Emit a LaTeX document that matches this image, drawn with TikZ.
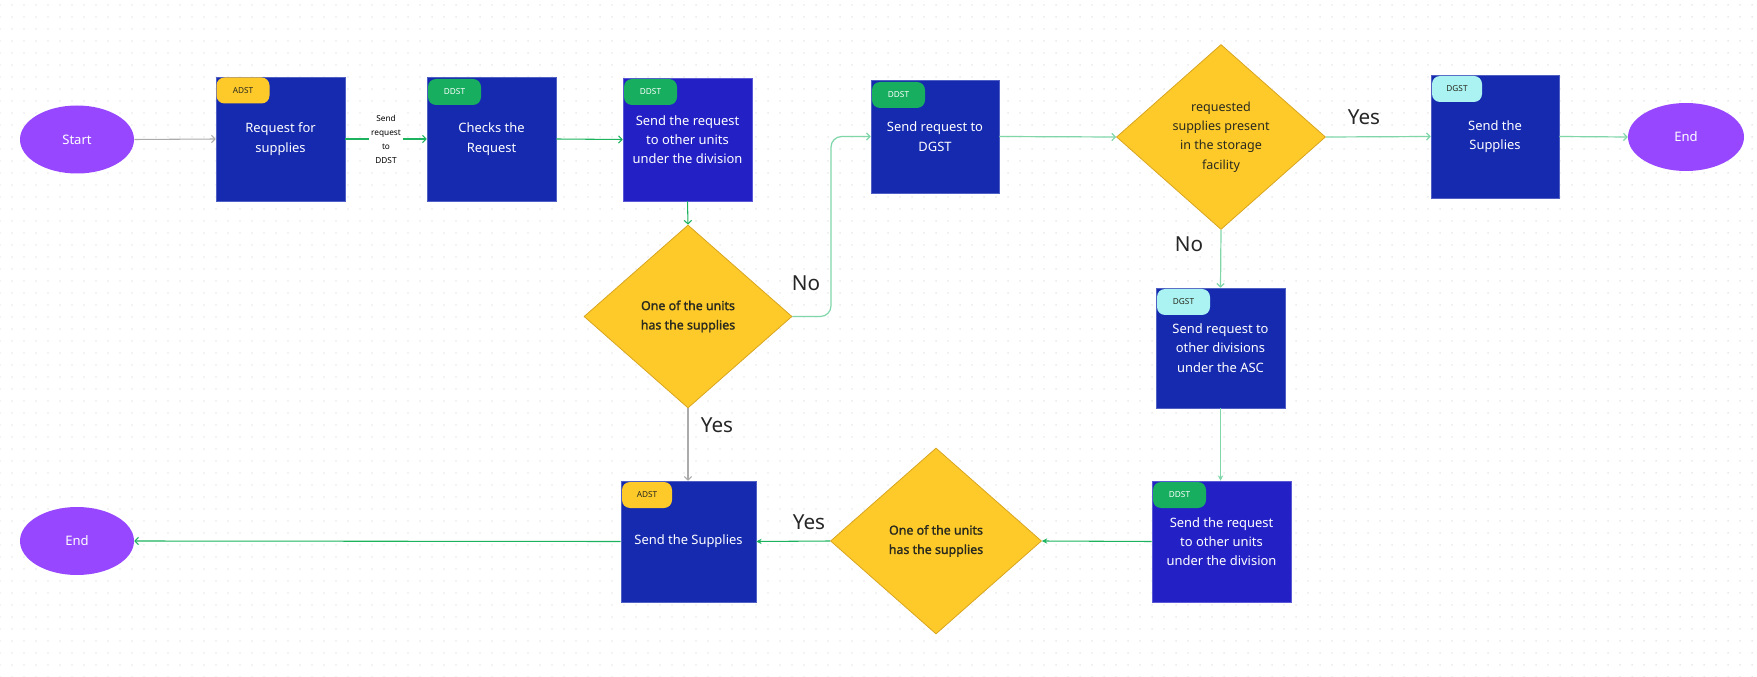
\documentclass[tikz,border=0pt]{standalone}
\usepackage{fontspec}
\setmainfont{Noto Sans}
\newfontfamily\semibfam{Noto Sans}[FakeBold=1.6]
\usetikzlibrary{shapes.geometric,arrows.meta,calc,patterns.meta}

\definecolor{boxblue}{HTML}{152AAF}
\definecolor{boxpurple}{HTML}{2321C6}
\definecolor{dyellow}{HTML}{FDCA2A}
\definecolor{dedge}{HTML}{D9A51E}
\definecolor{epurple}{HTML}{9747FF}
\definecolor{tyellow}{HTML}{FDCA2A}
\definecolor{tgreen}{HTML}{17AE5F}
\definecolor{tcyan}{HTML}{AAF3F2}
\definecolor{lgreen}{HTML}{1DB35E}
\definecolor{lgreenlight}{HTML}{7FD6A8}
\definecolor{lgray}{HTML}{ABABAB}
\definecolor{dtextc}{HTML}{2A2A1E}
\definecolor{dotc}{HTML}{CFCFCF}

\tikzdeclarepattern{
  name=griddots,
  type=uncolored,
  bounding box={(-4.5pt,-4.5pt) and (4.5pt,4.5pt)},
  tile size={(9pt,9pt)},
  code={\pgfpathcircle{\pgfpointorigin}{0.55pt}\pgfusepath{fill}}
}

\tikzset{
  box/.style n args={3}{rectangle, fill=#3, draw=#3!75!white, line width=0.4pt,
    minimum width=#1*0.75pt, minimum height=#2*0.75pt, inner sep=0pt,
    text=white, align=center, font=\fontsize{9.7}{14.5}\selectfont},
  tagbox/.style={rectangle, rounded corners=6pt, minimum width=53*0.75pt,
    minimum height=26*0.75pt, inner sep=0pt, anchor=north west,
    font=\fontsize{6.2}{8}\selectfont},
  dia/.style 2 args={diamond, fill=dyellow, draw=dedge, line width=0.6pt,
    minimum width=#1*0.75pt, minimum height=#2*0.75pt, inner sep=0pt},
  dtext/.style={align=center, text=dtextc, font=\fontsize{9.4}{14.5}\selectfont},
  dtextb/.style={align=center, text=dtextc, font=\semibfam\fontsize{9.3}{14.5}\selectfont},
  ell/.style 2 args={ellipse, fill=epurple, minimum width=#1*0.75pt,
    minimum height=#2*0.75pt, inner sep=0pt, text=white,
    font=\fontsize{9.8}{12}\selectfont},
  yn/.style={text=black!85, font=\fontsize{15.5}{18}\selectfont},
  open/.style={-{Straight Barb[length=2.6pt,width=5.5pt]}},
  solidtip/.style={-{Stealth[length=4pt,width=4pt]}},
  gline/.style={draw=lgreen, line width=0.8pt},
  lline/.style={draw=lgreenlight, line width=0.9pt},
  grayline/.style={draw=lgray, line width=0.8pt},
}

\begin{document}
\begin{tikzpicture}[x=0.75pt,y=-0.75pt]
\useasboundingbox (0,0) rectangle (1757,677);
\fill[white] (0,0) rectangle (1757,677);
\fill[pattern=griddots, pattern color=dotc] (0,0) rectangle (1757,677);

% terminals
\node[ell={114}{68}] (start) at (77,139.5) {Start};
\node[ell={116}{68}] (end1) at (1686,137) {End};
\node[ell={114}{68}] (end2) at (77,541) {End};

% boxes
\node[box={129}{124}{boxblue}] (b1) at (280.5,139) {Request for\\supplies};
\node[box={129}{124}{boxblue}] (b2) at (491.5,139) {Checks the\\Request};
\node[box={129}{123}{boxpurple}] (b3) at (687.5,139.5) {Send the request\\to other units\\under the division};
\node[box={128}{113}{boxblue}] (b4) at (935,136.5) {Send request to\\DGST};
\node[box={128}{123}{boxblue}] (b5) at (1495,136.5) {Send the\\Supplies};
\node[box={129}{120}{boxblue}] (b6) at (1220.5,348) {Send request to\\other divisions\\under the ASC};
\node[box={139}{121}{boxpurple}] (b7) at (1221.5,541.5) {Send the request\\to other units\\under the division};
\node[box={135}{121}{boxblue}] (b8) at (688.5,541.5) {Send the Supplies};

% tags
\node[tagbox, fill=tyellow, text=dtextc] (t1) at ($(b1.north west)+(0.5,0.5)$) {ADST};
\node[tagbox, fill=tgreen, text=white] (t2) at ($(b2.north west)+(1,2)$) {DDST};
\node[tagbox, fill=tgreen, text=white] (t3) at ($(b3.north west)+(1,1)$) {DDST};
\node[tagbox, fill=tgreen, text=white] (t4) at ($(b4.north west)+(1,2)$) {DDST};
\node[tagbox, fill=tcyan, text=dtextc, minimum width=50*0.75pt] (t5) at ($(b5.north west)+(1,1)$) {DGST};
\node[tagbox, fill=tcyan, text=dtextc] (t6) at ($(b6.north west)+(1,1)$) {DGST};
\node[tagbox, fill=tgreen, text=white] (t7) at ($(b7.north west)+(1,1)$) {DDST};
\node[tagbox, fill=tyellow, text=dtextc, minimum width=50*0.75pt] (t8) at ($(b8.north west)+(1,1)$) {ADST};

% decisions
\node[dia={209}{185}] (d1) at (1221,137) {};
\node[dtext] (d1t) at (d1) {requested\\supplies present\\in the storage\\facility};
\node[dia={208}{183}] (d2) at (688,316.5) {};
\node[dtextb] (d2t) at (d2) {One of the units\\has the supplies};
\node[dia={211}{186}] (d3) at (936,541) {};
\node[dtextb] (d3t) at (d3) {One of the units\\has the supplies};

% connectors
\draw[grayline, open] (start.east) -- (b1.west);
\draw[gline, open] (b1.east) -- node[fill=white, inner sep=1.5pt, align=center,
  font=\fontsize{6.2}{10.5}\selectfont] (l1) {Send\\request\\to\\DDST} (b2.west);
\draw[gline, open] (b2.east) -- (b3.west);
\draw[gline, open] (b3.south) -- (d2.north);
\coordinate (nbend) at (831,316.5);
\draw[lline, open, rounded corners=8pt] (d2.east) -- (nbend) |- (b4.west);
\node[yn] (no1) at (806,283) {No};
\draw[lline, open] (b4.east) -- (d1.west);
\draw[lline, open] (d1.east) -- (b5.west);
\node[yn] (yes1) at (1364,117) {Yes};
\draw[lline, open] (b5.east) -- (end1.west);
\draw[lline, open] (d1.south) -- (b6.north);
\node[yn] (no2) at (1189,244) {No};
\draw[lline, solidtip] (b6.south) -- (b6.south |- b7.north);
\draw[gline, solidtip] (b7.west) -- (d3.east);
\draw[gline, solidtip] (d3.west) -- (b8.east);
\node[yn] (yes3) at (809,522) {Yes};
\draw[grayline, open] (d2.south) -- (d2.south |- b8.north);
\node[yn] (yes2) at (717,425) {Yes};
\draw[gline, open] (b8.west) -- (end2.east);
\end{tikzpicture}
\end{document}
